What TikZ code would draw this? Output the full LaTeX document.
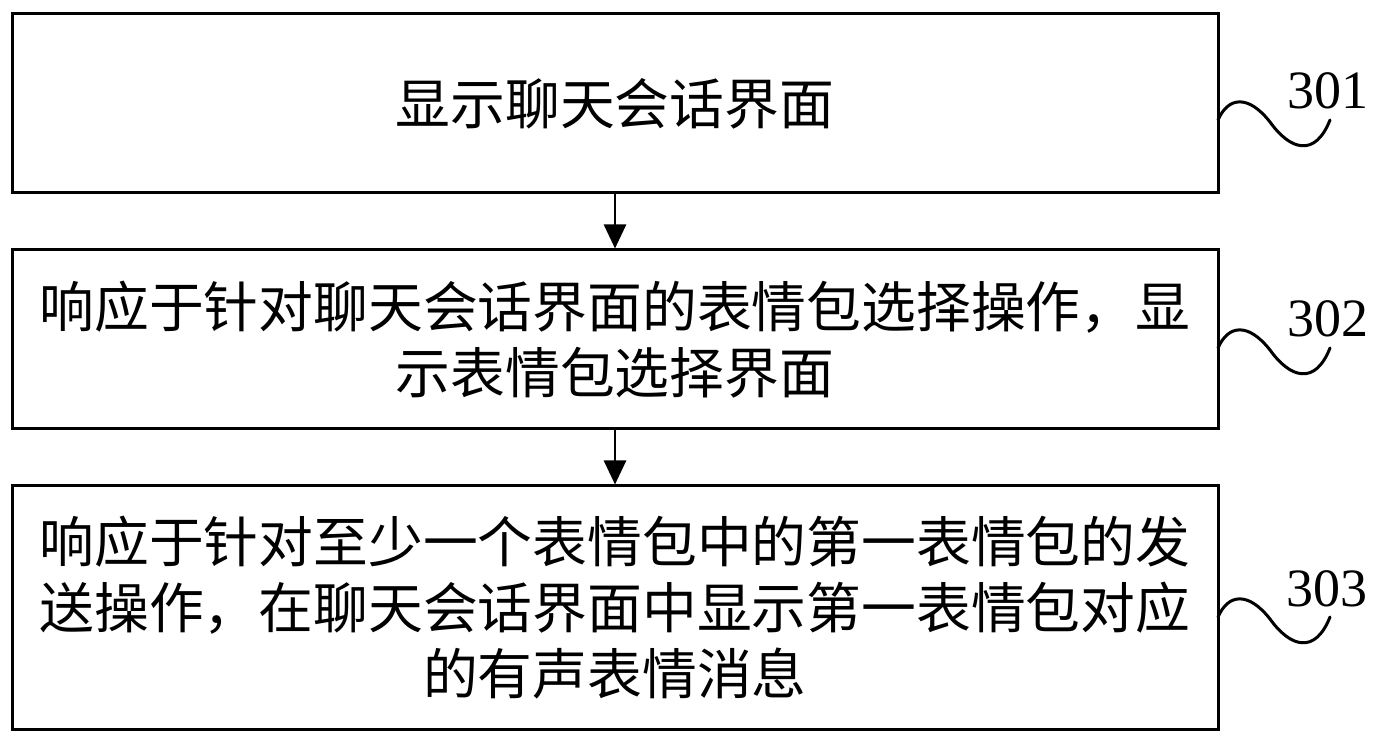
\documentclass[tikz,border=0pt]{standalone}
\usepackage{fontspec}
\setmainfont{Liberation Serif}
\newfontfamily\cjk{Noto Sans CJK SC}
\usetikzlibrary{arrows.meta}
\tikzset{
  box/.style={draw, line width=1.5pt, rectangle, minimum width=603pt, inner sep=0pt,
    text width=590pt, align=center, font=\cjk\fontsize{27.4pt}{33pt}\selectfont},
  arr/.style={line width=1.3pt, -{Triangle[length=12pt,width=11pt]}},
  wave/.style={line width=1.5pt, line cap=round},
  num/.style={font=\fontsize{27pt}{30pt}\selectfont, inner sep=0pt},
  wavepic/.pic={\draw[wave] (0,0) .. controls (10,-23) and (30,-26) .. (52,2) .. controls (72,30) and (97,38) .. (112,0);}
}
\begin{document}
\begin{tikzpicture}[x=0.5pt,y=-0.5pt]
\useasboundingbox[fill=white] (0,0) rectangle (1381,742);
\node[box, minimum height=89.5pt] (b1) at (615,103.5) {显示聊天会话界面};
\node[box, minimum height=89.5pt] (b2) at (615,339.5) {响应于针对聊天会话界面的表情包选择操作，显\\示表情包选择界面};
\node[box, minimum height=121.5pt] (b3) at (615,607.5) {响应于针对至少一个表情包中的第一表情包的发\\送操作，在聊天会话界面中显示第一表情包对应\\的有声表情消息};
\draw[arr] (b1) -- (b2);
\draw[arr] (b2) -- (b3);
\coordinate (w1) at (1218,120);
\coordinate (w2) at (1218,348);
\coordinate (w3) at (1218,617);
\pic at (w1) {wavepic};
\pic at (w2) {wavepic};
\pic at (w3) {wavepic};
\node[num] (n1) at (1328,91) {301};
\node[num] (n2) at (1328,319) {302};
\node[num] (n3) at (1327,589) {303};
\end{tikzpicture}
\end{document}
